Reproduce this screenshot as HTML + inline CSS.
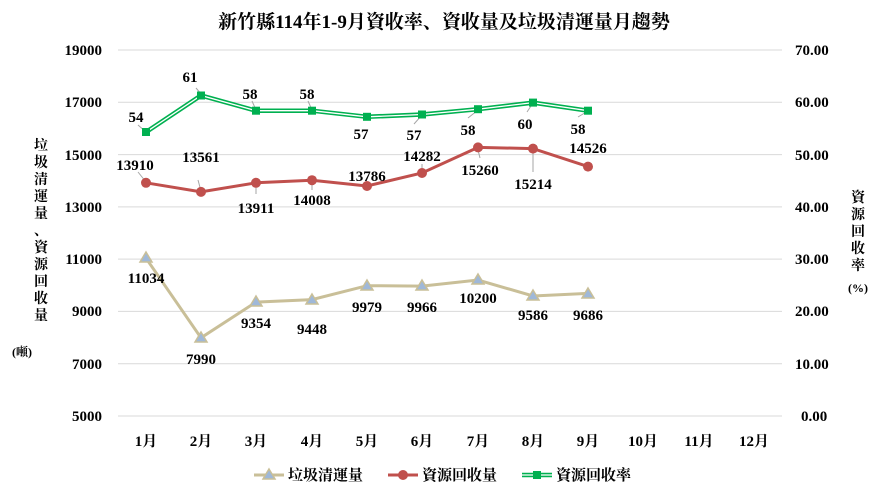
<!DOCTYPE html><html><head><meta charset="utf-8"><style>body{margin:0;background:#fff}svg{display:block}text{font-family:"Liberation Serif","Noto Serif CJK SC","Noto Sans CJK TC",serif;font-weight:bold;fill:#000}</style></head><body>
<svg width="889" height="491" viewBox="0 0 889 491">
<rect width="889" height="491" fill="#fff"/>
<text x="444" y="28" font-size="19" text-anchor="middle">新竹縣114年1-9月資收率、資收量及垃圾清運量月趨勢</text>
<g stroke="#d9d9d9" stroke-width="1">
<line x1="118" x2="782" y1="50" y2="50"/><line x1="118" x2="782" y1="102.3" y2="102.3"/><line x1="118" x2="782" y1="154.6" y2="154.6"/><line x1="118" x2="782" y1="206.9" y2="206.9"/><line x1="118" x2="782" y1="259.1" y2="259.1"/><line x1="118" x2="782" y1="311.4" y2="311.4"/><line x1="118" x2="782" y1="363.7" y2="363.7"/><line x1="118" x2="782" y1="416" y2="416"/>
</g>
<g font-size="15" text-anchor="end">
<text x="102" y="55">19000</text><text x="102" y="107">17000</text><text x="102" y="160">15000</text><text x="102" y="212">13000</text><text x="102" y="264">11000</text><text x="102" y="316">9000</text><text x="102" y="369">7000</text><text x="102" y="421">5000</text>
</g>
<g font-size="15" text-anchor="start">
<text x="795" y="55">70.00</text><text x="795" y="107">60.00</text><text x="795" y="160">50.00</text><text x="795" y="212">40.00</text><text x="795" y="264">30.00</text><text x="795" y="316">20.00</text><text x="795" y="369">10.00</text><text x="801" y="421">0.00</text>
</g>
<g font-size="15" text-anchor="middle">
<text x="146" y="446">1月</text><text x="201" y="446">2月</text><text x="256" y="446">3月</text><text x="312" y="446">4月</text><text x="367" y="446">5月</text><text x="422" y="446">6月</text><text x="478" y="446">7月</text><text x="533" y="446">8月</text><text x="588" y="446">9月</text><text x="643" y="446">10月</text><text x="699" y="446">11月</text><text x="754" y="446">12月</text>
</g>
<g font-size="14" text-anchor="middle">
<text x="41" y="150">垃</text><text x="41" y="167">圾</text><text x="41" y="184">清</text><text x="41" y="201">運</text><text x="41" y="218">量</text><text x="41" y="235">、</text><text x="41" y="252">資</text><text x="41" y="269">源</text><text x="41" y="286">回</text><text x="41" y="303">收</text><text x="41" y="320">量</text>
<text x="22" y="356" font-size="12">(噸)</text>
<text x="858" y="202">資</text><text x="858" y="219">源</text><text x="858" y="236">回</text><text x="858" y="253">收</text><text x="858" y="270">率</text>
<text x="858" y="292" font-size="12" font-weight="normal">(%)</text>
</g>
<g stroke="#a6a6a6" stroke-width="1">
<line x1="138" y1="125" x2="146" y2="132"/><line x1="196" y1="88" x2="202" y2="95"/><line x1="252" y1="101" x2="256" y2="110"/><line x1="308" y1="101" x2="312" y2="110"/>
<line x1="138" y1="172" x2="146" y2="182"/><line x1="198" y1="180" x2="201" y2="191"/><line x1="256" y1="184" x2="256" y2="194"/><line x1="312" y1="181" x2="312" y2="190"/>
<line x1="422" y1="164" x2="422" y2="172"/><line x1="478" y1="150" x2="480" y2="158"/><line x1="533" y1="150" x2="533" y2="172"/><line x1="414" y1="124" x2="422" y2="115"/><line x1="468" y1="118" x2="478" y2="110"/><line x1="527" y1="112" x2="533" y2="103"/><line x1="578" y1="117" x2="588" y2="111"/>
</g>
<polyline fill="none" stroke="#c9bf98" stroke-width="3" points="146,258.2 201,337.8 256,302.1 312,299.6 367,285.7 422,286.1 478,280.0 533,296.0 588,293.4"/>
<g fill="#9fb8d8" stroke="#c9bf98" stroke-width="1.5">
<polygon points="146,252 152,262 140,262"/><polygon points="201,332 207,342 195,342"/><polygon points="256,296 262,306 250,306"/><polygon points="312,294 318,304 306,304"/><polygon points="367,280 373,290 361,290"/><polygon points="422,280 428,290 416,290"/><polygon points="478,274 484,284 472,284"/><polygon points="533,290 539,300 527,300"/><polygon points="588,288 594,298 582,298"/>
</g>
<polyline fill="none" stroke="#c0504d" stroke-width="3" points="146,182.8 201,191.9 256,182.8 312,180.2 367,186.0 422,173.0 478,147.4 533,148.6 588,166.6"/>
<g fill="#c0504d"><circle cx="146" cy="182.8" r="5"/><circle cx="201" cy="191.9" r="5"/><circle cx="256" cy="182.8" r="5"/><circle cx="312" cy="180.2" r="5"/><circle cx="367" cy="186" r="5"/><circle cx="422" cy="173" r="5"/><circle cx="478" cy="147.4" r="5"/><circle cx="533" cy="148.6" r="5"/><circle cx="588" cy="166.6" r="5"/></g>
<polyline fill="none" stroke="#00b050" stroke-width="4.5" points="146,132.1 201,95.5 256,110.7 312,110.7 367,116.8 422,114.5 478,109.2 533,102.6 588,110.7"/>
<polyline fill="none" stroke="#fff" stroke-width="1.3" points="146,132.1 201,95.5 256,110.7 312,110.7 367,116.8 422,114.5 478,109.2 533,102.6 588,110.7"/>
<g fill="#00b050"><rect x="142" y="128" width="8" height="8"/><rect x="197" y="91.5" width="8" height="8"/><rect x="252" y="106.7" width="8" height="8"/><rect x="308" y="106.7" width="8" height="8"/><rect x="363" y="112.8" width="8" height="8"/><rect x="418" y="110.5" width="8" height="8"/><rect x="474" y="105.2" width="8" height="8"/><rect x="529" y="98.6" width="8" height="8"/><rect x="584" y="106.7" width="8" height="8"/></g>
<g font-size="15" text-anchor="middle">
<text x="136" y="122">54</text><text x="190" y="82">61</text><text x="250" y="99">58</text><text x="307" y="99">58</text><text x="361" y="139">57</text><text x="414" y="140">57</text><text x="468" y="135">58</text><text x="525" y="129">60</text><text x="578" y="134">58</text>
<text x="135" y="170">13910</text><text x="201" y="162">13561</text><text x="256" y="213">13911</text><text x="312" y="205">14008</text><text x="367" y="181">13786</text><text x="422" y="161">14282</text><text x="480" y="175">15260</text><text x="533" y="189">15214</text><text x="588" y="153">14526</text>
<text x="146" y="283">11034</text><text x="201" y="364">7990</text><text x="256" y="328">9354</text><text x="312" y="334">9448</text><text x="367" y="312">9979</text><text x="422" y="312">9966</text><text x="478" y="303">10200</text><text x="533" y="320">9586</text><text x="588" y="320">9686</text>
</g>
<line x1="254" y1="475" x2="284" y2="475" stroke="#c9bf98" stroke-width="3"/><polygon points="269,469 275,479 263,479" fill="#9fb8d8" stroke="#c9bf98" stroke-width="1.5"/>
<text x="288" y="480" font-size="15">垃圾清運量</text>
<line x1="388" y1="475" x2="418" y2="475" stroke="#c0504d" stroke-width="3"/><circle cx="403" cy="475" r="5" fill="#c0504d"/>
<text x="422" y="480" font-size="15">資源回收量</text>
<line x1="522" y1="475" x2="552" y2="475" stroke="#00b050" stroke-width="4.5"/><line x1="522" y1="475" x2="552" y2="475" stroke="#fff" stroke-width="1.3"/><rect x="533" y="471" width="8" height="8" fill="#00b050"/>
<text x="556" y="480" font-size="15">資源回收率</text>
</svg></body></html>
